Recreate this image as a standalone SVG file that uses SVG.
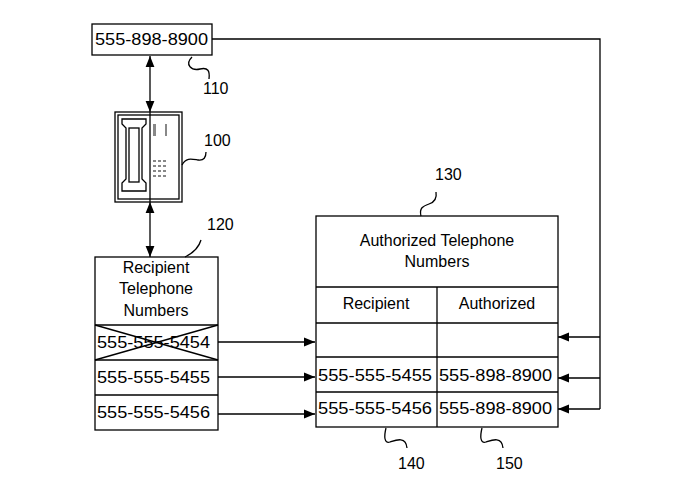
<svg xmlns="http://www.w3.org/2000/svg" width="695" height="494" viewBox="0 0 695 494">
<defs>
<marker id="a" viewBox="0 0 10 10" refX="10" refY="5" markerWidth="11" markerHeight="11" markerUnits="userSpaceOnUse" orient="auto-start-reverse"><path d="M0,1 L10,5 L0,9 z" fill="#000"/></marker>
<style>
.b{fill:#fff;stroke:#000;stroke-width:1.3}
.l{fill:none;stroke:#000;stroke-width:1.3}
text{font-family:"Liberation Sans",Arial,sans-serif;font-size:16px;fill:#000}
.c{text-anchor:middle}
</style>
</defs>
<rect width="695" height="494" fill="#fff"/>
<g id="connectors">
<path class="l" d="M212,39 H600 V409"/>
<path class="l" d="M600,337 H558" marker-end="url(#a)"/>
<path class="l" d="M600,378 H558" marker-end="url(#a)"/>
<path class="l" d="M600,409 H558" marker-end="url(#a)"/>
<path class="l" d="M150,56 V112" marker-start="url(#a)" marker-end="url(#a)"/>
<path class="l" d="M150,202 V257" marker-start="url(#a)" marker-end="url(#a)"/>
<path class="l" d="M218,342 H315" marker-end="url(#a)"/>
<path class="l" d="M218,377 H315" marker-end="url(#a)"/>
<path class="l" d="M218,414 H315" marker-end="url(#a)"/>
</g>
<g id="n110">
<rect class="b" x="92" y="24" width="120" height="31"/>
<text x="95" y="45" textLength="113" lengthAdjust="spacingAndGlyphs">555-898-8900</text>
<path class="l" d="M192,57 c-8,8 0,14 8,12 c8,-2 10,2 9,10"/>
<text x="203" y="94">110</text>
</g>
<g id="n100">
<rect class="b" x="115" y="112" width="67" height="90"/>
<rect class="l" x="118" y="115" width="61" height="84"/>
<path class="l" d="M122,119 h24 v5 l-4,4 v51 l4,4 v8 h-24 v-8 l4,-4 v-51 l-4,-4 z"/>
<rect class="l" x="129" y="128" width="10" height="54"/>
<line class="l" x1="150" y1="112" x2="150" y2="202"/>
<g fill="#888"><rect x="153" y="124" width="3" height="12"/><rect x="165" y="124" width="2" height="12"/>
<rect x="153" y="160" width="3" height="2"/><rect x="158" y="160" width="3" height="2"/><rect x="163" y="160" width="3" height="2"/>
<rect x="153" y="165" width="3" height="2"/><rect x="158" y="165" width="3" height="2"/><rect x="163" y="165" width="3" height="2"/>
<rect x="153" y="170" width="3" height="2"/><rect x="158" y="170" width="3" height="2"/><rect x="163" y="170" width="3" height="2"/>
<rect x="153" y="175" width="3" height="2"/><rect x="158" y="175" width="3" height="2"/><rect x="163" y="175" width="3" height="2"/></g>
<path class="l" d="M182,165 c4,-8 10,-6 16,-5 c6,1 8,-3 8,-8"/>
<text x="204" y="146">100</text>
</g>
<g id="n120">
<rect class="b" x="95" y="257" width="123" height="173"/>
<line class="l" x1="95" y1="325" x2="218" y2="325"/>
<line class="l" x1="95" y1="360" x2="218" y2="360"/>
<line class="l" x1="95" y1="395" x2="218" y2="395"/>
<line class="l" x1="95" y1="325" x2="218" y2="360"/>
<line class="l" x1="218" y1="325" x2="95" y2="360"/>
<text x="156" y="273" class="c">Recipient</text>
<text x="156" y="294" class="c">Telephone</text>
<text x="156" y="316" class="c">Numbers</text>
<text x="97" y="348" textLength="113" lengthAdjust="spacingAndGlyphs">555-555-5454</text>
<text x="97" y="383" textLength="113" lengthAdjust="spacingAndGlyphs">555-555-5455</text>
<text x="97" y="418" textLength="113" lengthAdjust="spacingAndGlyphs">555-555-5456</text>
<path class="l" d="M185,257 c8,-4 14,-10 16,-17"/>
<text x="207" y="230">120</text>
</g>
<g id="n130">
<rect class="b" x="316" y="216" width="242" height="211"/>
<line class="l" x1="316" y1="287" x2="558" y2="287"/>
<line class="l" x1="316" y1="323" x2="558" y2="323"/>
<line class="l" x1="316" y1="357" x2="558" y2="357"/>
<line class="l" x1="316" y1="392" x2="558" y2="392"/>
<line class="l" x1="437" y1="287" x2="437" y2="427"/>
<text x="437" y="246" class="c">Authorized Telephone</text>
<text x="437" y="267" class="c">Numbers</text>
<text x="376" y="309" class="c">Recipient</text>
<text x="497" y="309" class="c">Authorized</text>
<text x="318" y="381" textLength="114" lengthAdjust="spacingAndGlyphs">555-555-5455</text>
<text x="439" y="381" textLength="113" lengthAdjust="spacingAndGlyphs">555-898-8900</text>
<text x="318" y="414" textLength="114" lengthAdjust="spacingAndGlyphs">555-555-5456</text>
<text x="439" y="414" textLength="113" lengthAdjust="spacingAndGlyphs">555-898-8900</text>
<path class="l" d="M421,216 c-2,-8 2,-10 8,-12 c6,-2 8,-6 7,-12"/>
<text x="435" y="180">130</text>
<path class="l" d="M386,428 c-2,8 -2,16 4,14 c6,-2 16,-6 17,6"/>
<text x="398" y="469">140</text>
<path class="l" d="M482,428 c-2,8 -2,16 4,14 c6,-2 16,-6 17,6"/>
<text x="496" y="469">150</text>
</g>
</svg>
